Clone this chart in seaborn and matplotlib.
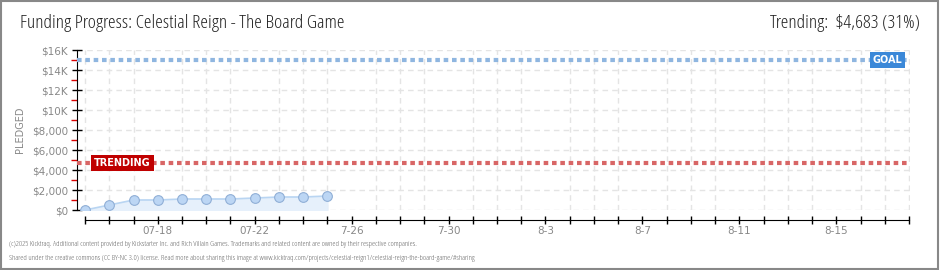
import pandas as pd
import numpy as np
import matplotlib
matplotlib.use('Agg')
import matplotlib.pyplot as plt
import matplotlib.dates as mdates
import seaborn as sns

#data
dates = ['2025-07-15', '2025-07-16', '2025-07-17', '2025-07-18', '2025-07-19', '2025-07-20',
         '2025-07-21', '2025-07-22', '2025-07-23', '2025-07-24', '2025-07-25']
pledged = [0, 500, 1000, 1000, 1100, 1100, 1100, 1200, 1300, 1300, 1400]
goal = 15000
trending = 4683

tick_dates = ['2025-07-18', '2025-07-22', '2025-07-26', '2025-07-30',
              '2025-08-03', '2025-08-07', '2025-08-11', '2025-08-15']
tick_labels = ['07-18', '07-22', '7-26', '7-30', '8-3', '8-7', '8-11', '8-15']
ytick_vals = [0, 2000, 4000, 6000, 8000, 10000, 12000, 14000, 16000]
ytick_labels = ['$0', '$2,000', '$4,000', '$6,000', '$8,000', '$10K', '$12K', '$14K', '$16K']

df = pd.DataFrame({'date': pd.to_datetime(dates), 'pledged': pledged})

sns.set_style('white')
plt.rcParams['font.family'] = ['DejaVu Sans']

fig = plt.figure(figsize=(9.4, 2.7), dpi=100)
ax = fig.add_axes([77/940, 60/270, 833/940, 160/270])

#area + line
ax.fill_between(df['date'], df['pledged'], color='#e6f0fb', zorder=2)
sns.lineplot(data=df, x='date', y='pledged', ax=ax, color='#b9d5f2', linewidth=1.2,
             marker='o', markersize=7, markerfacecolor='#bcd6f4',
             markeredgecolor='#90afd6', markeredgewidth=0.8, zorder=4)

#goal / trending lines
ax.axhline(goal, color='#8fb6e0', linewidth=3, linestyle=(0, (1.1, 0.9)), zorder=3)
ax.axhline(trending, color='#d86666', linewidth=3, linestyle=(0, (1.1, 0.9)), zorder=3)

x0 = pd.Timestamp('2025-07-15') - pd.Timedelta(hours=8)
x1 = pd.Timestamp('2025-08-18') + pd.Timedelta(hours=1)
ax.set_xlim(x0, x1)
ax.set_ylim(0, 16000)

#labels on the lines
ax.text(pd.Timestamp('2025-08-16 12:00'), goal, 'GOAL', color='white', fontsize=7,
        fontweight='bold', va='center', ha='left', zorder=6,
        bbox=dict(boxstyle='square,pad=0.3', fc='#3b88d8', ec='none'))
ax.text(pd.Timestamp('2025-07-15 09:00'), trending, 'TRENDING', color='white', fontsize=7,
        fontweight='bold', va='center', ha='left', zorder=6,
        bbox=dict(boxstyle='square,pad=0.3', fc='#c00000', ec='none'))

#ticks
ax.set_xticks(pd.to_datetime(tick_dates))
ax.set_xticklabels(tick_labels)
ax.xaxis.set_minor_locator(mdates.DayLocator())
ax.set_yticks(ytick_vals)
ax.set_yticklabels(ytick_labels)
ax.set_yticks(np.arange(1000, 16000, 2000), minor=True)
ax.tick_params(axis='both', which='major', labelsize=7.5, labelcolor='#888888')
ax.tick_params(axis='x', which='both', bottom=True, direction='inout', length=6, width=1,
               color='black', pad=1)
ax.tick_params(axis='y', which='major', left=True, direction='inout', length=7, width=1,
               color='black', pad=3)
ax.tick_params(axis='y', which='minor', left=True, direction='out', length=4, width=1,
               color='#dd0000')

ax.grid(True, which='major', axis='y', color='#e4e4e4', linestyle=(0, (4, 3)), linewidth=1)
ax.grid(True, which='minor', axis='x', color='#e4e4e4', linestyle=(0, (4, 3)), linewidth=1)
ax.set_axisbelow(True)

for s in ['top', 'right']:
    ax.spines[s].set_visible(False)
ax.spines['left'].set_color('black')
ax.spines['bottom'].set_color('black')
ax.spines['bottom'].set_position(('outward', 7.5))
ax.spines['bottom'].set_bounds(mdates.date2num(pd.Timestamp('2025-07-15')),
                               mdates.date2num(pd.Timestamp('2025-08-18')))

ax.set_xlabel('')
ax.set_ylabel('PLEDGED', color='#888888', fontsize=7, labelpad=5)

#titles and footer
fig.text(20/940, 1 - 23/270, 'Funding Progress: Celestial Reign - The Board Game',
         fontsize=14, va='center', ha='left', color='#222222',
         family='Open Sans', fontstretch='condensed')
fig.text(920/940, 1 - 23/270, 'Trending:  $4,683 (31%)',
         fontsize=14, va='center', ha='right', color='#222222',
         family='Open Sans', fontstretch='condensed')
fig.text(9/940, 1 - 244/270,
         '(c)2025 Kicktraq. Additional content provided by Kickstarter Inc. and Rich Villain Games. '
         'Trademarks and related content are owned by their respective companies.',
         fontsize=5.7, va='center', ha='left', color='#666666',
         family='Open Sans', fontstretch='condensed')
fig.text(9/940, 1 - 258/270,
         'Shared under the creative commons (CC BY-NC 3.0) license. Read more about sharing this image at '
         'www.kicktraq.com/projects/celestial-reign1/celestial-reign-the-board-game/#sharing',
         fontsize=5.7, va='center', ha='left', color='#666666',
         family='Open Sans', fontstretch='condensed')

#outer frame
fig.patches.append(plt.Rectangle((0.001, 0.002), 0.997, 0.995, transform=fig.transFigure,
                                 fill=False, ec='#888888', lw=1.5))

plt.savefig('out.png', dpi=100)
